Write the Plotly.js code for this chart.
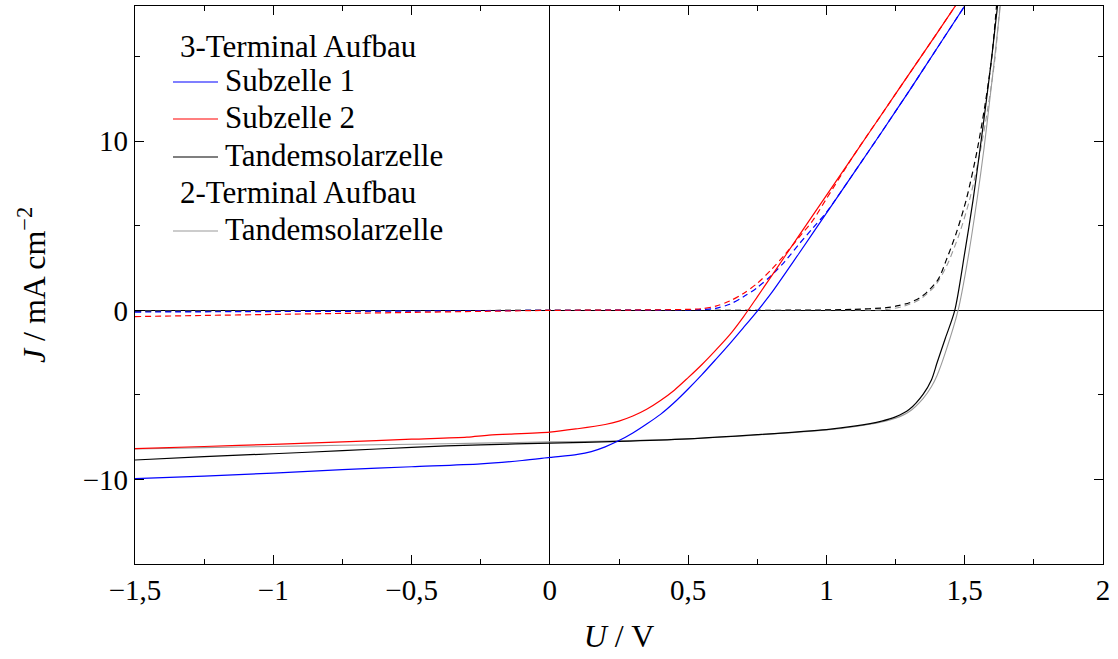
<!DOCTYPE html>
<html>
<head>
<meta charset="utf-8">
<script src="https://cdn.plot.ly/plotly-3.0.1.min.js"></script>
<style>
  html, body { margin: 0; padding: 0; background: #fff; }
  #chart { width: 1118px; height: 659px; }
</style>
</head>
<body>
<div id="chart"></div>
<script>
// J-U characteristics of the tandem cell (voltage in V, current density in mA/cm^2)

// Subzelle 1, illuminated
const sub1LightU = [-1.5, -1.25, -1.0, -0.75, -0.5, -0.25, -0.1, 0, 0.1, 0.15, 0.2, 0.25, 0.3, 0.35, 0.4, 0.45, 0.5, 0.55, 0.6, 0.65, 0.7, 0.75, 0.8, 0.9, 1.0, 1.1, 1.2, 1.3, 1.4, 1.5];
const sub1LightJ = [-9.95, -9.8, -9.62, -9.42, -9.25, -9.08, -8.88, -8.7, -8.52, -8.35, -8.07, -7.7, -7.25, -6.72, -6.15, -5.45, -4.65, -3.8, -2.9, -1.98, -1.02, -0.04, 1.0, 3.35, 5.75, 8.15, 10.55, 13.0, 15.5, 18.0];

// Subzelle 1, dark
const sub1DarkU = [-1.5, -1.0, -0.5, 0, 0.4, 0.55, 0.6, 0.65, 0.7, 0.75, 0.8, 0.85, 0.9, 0.95, 1.0, 1.1, 1.2, 1.3, 1.4, 1.5];
const sub1DarkJ = [-0.1, -0.07, -0.04, 0, 0.02, 0.05, 0.12, 0.36, 0.8, 1.35, 2.05, 2.9, 3.9, 4.85, 5.8, 8.15, 10.55, 13.0, 15.5, 18.0];

// Subzelle 2, illuminated
const sub2LightU = [-1.5, -1.25, -1.0, -0.75, -0.5, -0.3, -0.22, 0, 0.1, 0.2, 0.25, 0.3, 0.35, 0.4, 0.45, 0.5, 0.55, 0.6, 0.65, 0.7, 0.75, 0.8, 0.9, 1.0, 1.1, 1.2, 1.3, 1.4, 1.47];
const sub2LightJ = [-8.18, -8.05, -7.92, -7.78, -7.62, -7.5, -7.38, -7.2, -7.0, -6.75, -6.55, -6.25, -5.85, -5.33, -4.72, -3.98, -3.2, -2.35, -1.45, -0.38, 0.8, 2.0, 4.4, 6.8, 9.2, 11.6, 14.0, 16.4, 18.1];

// Subzelle 2, dark
const sub2DarkU = [-1.5, -1.25, -1.0, -0.75, -0.5, -0.25, 0, 0.3, 0.5, 0.55, 0.6, 0.65, 0.7, 0.75, 0.8, 0.85, 0.9, 0.95, 1.0, 1.1, 1.2, 1.3, 1.4, 1.47];
const sub2DarkJ = [-0.37, -0.3, -0.24, -0.18, -0.12, -0.06, 0, 0.02, 0.06, 0.1, 0.25, 0.55, 1.0, 1.6, 2.4, 3.3, 4.3, 5.3, 6.6, 9.2, 11.6, 14.0, 16.4, 18.1];

// Tandemsolarzelle, 3-terminal, illuminated
const tan3LightU = [-1.5, -1.25, -1.0, -0.75, -0.5, -0.25, 0, 0.25, 0.5, 0.75, 1.0, 1.1, 1.2, 1.25, 1.3, 1.35, 1.38, 1.4, 1.43, 1.464, 1.5, 1.53, 1.555, 1.579, 1.6, 1.62];
const tan3LightJ = [-8.85, -8.65, -8.48, -8.3, -8.1, -7.95, -7.85, -7.75, -7.6, -7.35, -7.05, -6.85, -6.55, -6.3, -5.85, -4.95, -4.1, -3.1, -1.65, 0, 3.4, 6.5, 9.5, 12.5, 15.3, 18.2];

// Tandemsolarzelle, 3-terminal, dark
const tan3DarkU = [-1.5, -1.0, -0.5, 0, 0.5, 0.976, 1.1, 1.217, 1.26, 1.3, 1.335, 1.362, 1.404, 1.434, 1.47, 1.506, 1.543, 1.573, 1.597, 1.615];
const tan3DarkJ = [-0.05, -0.04, -0.02, 0, 0.0, 0.02, 0.06, 0.16, 0.28, 0.45, 0.72, 1.05, 1.83, 3.0, 4.6, 6.57, 9.3, 12.1, 14.85, 18.0];

// Tandemsolarzelle, 2-terminal, illuminated
const tan2LightU = [-1.5, -1.25, -1.0, -0.75, -0.5, -0.25, 0, 0.25, 0.5, 0.75, 1.0, 1.1, 1.2, 1.25, 1.3, 1.35, 1.38, 1.4, 1.43, 1.476, 1.51, 1.545, 1.57, 1.591, 1.61, 1.63];
const tan2LightJ = [-8.2, -8.12, -8.05, -7.98, -7.92, -7.85, -7.78, -7.72, -7.6, -7.37, -7.07, -6.88, -6.6, -6.38, -5.98, -5.2, -4.5, -3.85, -2.5, 0, 2.9, 6.6, 9.6, 12.5, 15.2, 18.2];

// Tandemsolarzelle, 2-terminal, dark
const tan2DarkU = [-1.5, -1.0, -0.5, 0, 0.5, 0.976, 1.1, 1.217, 1.28, 1.338, 1.392, 1.434, 1.482, 1.518, 1.555, 1.585, 1.609, 1.627];
const tan2DarkJ = [-0.03, -0.02, -0.01, 0, 0.0, 0.01, 0.03, 0.05, 0.25, 0.65, 1.44, 2.6, 4.6, 6.57, 9.3, 12.1, 14.85, 18.0];

// Legend entries
const legendHeaders = ['3-Terminal Aufbau', '2-Terminal Aufbau'];
const legendLabels = ['Subzelle 1', 'Subzelle 2', 'Tandemsolarzelle', 'Tandemsolarzelle'];

const BLUE = '#0000ff', RED = '#ff0000', BLACK = '#000000', GRAY = '#9a9a9a';
const DASH = '6px,4px';
const FONT = 'Liberation Serif, Times New Roman, serif';

function curve(u, j, color, dash, width) {
  return {
    x: u, y: j, type: 'scatter', mode: 'lines', showlegend: false,
    line: { color: color, width: width || 1.2, dash: dash || 'solid', shape: 'spline', smoothing: 0.8 },
    hoverinfo: 'skip'
  };
}

const traces = [
  curve(tan2DarkU, tan2DarkJ, GRAY, DASH, 1.1),
  curve(tan3DarkU, tan3DarkJ, BLACK, DASH),
  curve(sub1DarkU, sub1DarkJ, BLUE, DASH),
  curve(sub2DarkU, sub2DarkJ, RED, DASH),
  curve(tan2LightU, tan2LightJ, GRAY, 'solid', 1.1),
  curve(tan3LightU, tan3LightJ, BLACK),
  curve(sub1LightU, sub1LightJ, BLUE),
  curve(sub2LightU, sub2LightJ, RED)
];

// Plot area geometry (pixels) used to place the hand-made legend
const W = 1118, H = 659;
const M = { l: 135, r: 15, t: 6, b: 95 };
const PW = W - M.l - M.r, PH = H - M.t - M.b;
const px = v => (v - M.l) / PW;
const py = v => (H - M.b - v) / PH;

const legendColors = [BLUE, RED, BLACK, GRAY];
const legendRowsY = [80, 117, 155, 229];
const headerRowsY = [46, 192];
const LEGEND_SIZE = 31;

const annotations = [];
const shapes = [];
headerRowsY.forEach((y, i) => {
  annotations.push({
    xref: 'paper', yref: 'paper', x: px(178), y: py(y), xanchor: 'left', yanchor: 'middle',
    text: legendHeaders[i], showarrow: false, font: { family: FONT, size: LEGEND_SIZE, color: '#000' }
  });
});
legendRowsY.forEach((y, i) => {
  shapes.push({
    type: 'line', xref: 'paper', yref: 'paper',
    x0: px(173), x1: px(218), y0: py(y + 2), y1: py(y + 2),
    line: { color: legendColors[i], width: 1.2 }
  });
  annotations.push({
    xref: 'paper', yref: 'paper', x: px(223), y: py(y), xanchor: 'left', yanchor: 'middle',
    text: legendLabels[i], showarrow: false, font: { family: FONT, size: LEGEND_SIZE, color: '#000' }
  });
});

const axisCommon = {
  showgrid: false,
  showline: true, linecolor: '#000', linewidth: 1.2,
  mirror: 'ticks',
  ticks: 'inside', ticklen: 9, tickwidth: 1, tickcolor: '#000',
  zeroline: true, zerolinecolor: '#000', zerolinewidth: 1.2,
  tickfont: { family: FONT, size: 29, color: '#000' }
};

const layout = {
  width: W, height: H,
  margin: M,
  paper_bgcolor: '#fff', plot_bgcolor: '#fff',
  separators: ',.',
  font: { family: FONT, size: 29, color: '#000' },
  showlegend: false,
  xaxis: Object.assign({}, axisCommon, {
    range: [-1.5, 2], tickmode: 'linear', tick0: -1.5, dtick: 0.5,
    minor: { dtick: 0.25, ticks: 'inside', ticklen: 5, tickcolor: '#000', showgrid: false },
    title: { text: '<i>U</i> / V', font: { family: FONT, size: 32 }, standoff: 19 }
  }),
  yaxis: Object.assign({}, axisCommon, {
    range: [-15, 18], tickmode: 'linear', tick0: -10, dtick: 10,
    minor: { dtick: 5, ticks: 'inside', ticklen: 5, tickcolor: '#000', showgrid: false },
    title: { text: '<i>J</i> / mA cm<sup>−2</sup>', font: { family: FONT, size: 32 }, standoff: 27 }
  }),
  annotations: annotations,
  shapes: shapes
};

Plotly.newPlot('chart', traces, layout, { staticPlot: true, displayModeBar: false });
</script>
</body>
</html>
